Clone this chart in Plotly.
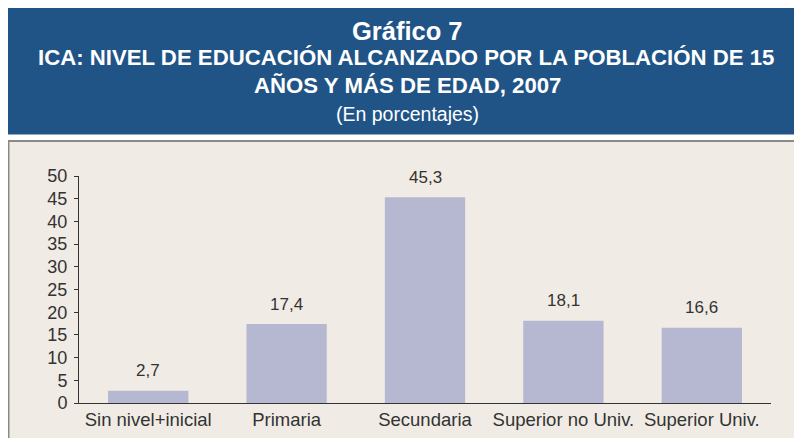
import plotly.graph_objects as go

categories = ["Sin nivel+inicial", "Primaria", "Secundaria", "Superior no Univ.", "Superior Univ."]
values = [2.7, 17.4, 45.3, 18.1, 16.6]
value_labels = ["2,7", "17,4", "45,3", "18,1", "16,6"]
y_ticks = [0, 5, 10, 15, 20, 25, 30, 35, 40, 45, 50]

W, H = 802, 438
OFF = 8  # page offset of the figure (default body margin)
L, R, T, B = 71, 39, 168, 43
pw, ph = W - L - R, H - T - B


def px(x):
    """page x -> paper x"""
    return (x - OFF - L) / pw


def py(y):
    """page y -> paper y"""
    return (H - B - (y - OFF)) / ph


FONT = "Liberation Sans, Arial, sans-serif"

fig = go.Figure()
fig.add_trace(go.Bar(
    x=categories, y=values,
    marker=dict(color="#B6B7D0", line=dict(width=0)),
    hoverinfo="skip",
))

annotations = []
for c, v, t in zip(categories, values, value_labels):
    annotations.append(dict(x=c, y=v, text=t, showarrow=False, yshift=20,
                            yanchor="middle", font=dict(size=17, color="#333333", family=FONT)))

annotations += [
    dict(xref="paper", yref="paper", x=px(407), y=py(31), text="<b>Gráfico 7</b>", showarrow=False,
         font=dict(size=25.5, color="white", family=FONT), yanchor="middle"),
    dict(xref="paper", yref="paper", x=px(406), y=py(58), text="<b>ICA: NIVEL DE EDUCACIÓN ALCANZADO POR LA POBLACIÓN DE 15</b>",
         showarrow=False, font=dict(size=22.2, color="white", family=FONT), yanchor="middle"),
    dict(xref="paper", yref="paper", x=px(407), y=py(85), text="<b>AÑOS Y MÁS DE EDAD, 2007</b>",
         showarrow=False, font=dict(size=22.2, color="white", family=FONT), yanchor="middle"),
    dict(xref="paper", yref="paper", x=px(407), y=py(114), text="(En porcentajes)",
         showarrow=False, font=dict(size=19.5, color="white", family=FONT), yanchor="middle"),
]

shapes = [
    dict(type="rect", xref="paper", yref="paper", x0=px(8), x1=px(815), y0=py(8), y1=py(134.5),
         fillcolor="#215486", line=dict(width=0), layer="below"),
    dict(type="rect", xref="paper", yref="paper", x0=px(8.5), x1=px(815), y0=py(141), y1=py(460),
         fillcolor="#F0ECE5", line=dict(width=2, color="#8A8A8A"), layer="below"),
]

fig.update_layout(
    width=W, height=H,
    margin=dict(l=L, r=R, t=T, b=B, pad=0),
    paper_bgcolor="white", plot_bgcolor="rgba(0,0,0,0)",
    showlegend=False,
    bargap=0.42,
    font=dict(family=FONT, color="#333333"),
    annotations=annotations,
    shapes=shapes,
    xaxis=dict(showgrid=False, showline=True, linecolor="#333333", linewidth=1,
               ticks="", tickfont=dict(size=18.5, color="#333333"), zeroline=False,
               fixedrange=True),
    yaxis=dict(range=[0, 50], tickvals=y_ticks, showgrid=False, showline=True,
               linecolor="#333333", linewidth=1, ticks="outside", ticklen=4,
               tickcolor="#333333", tickfont=dict(size=18, color="#333333"),
               zeroline=False, ticklabelstandoff=3, fixedrange=True),
)

fig.write_html("out.html", config={"displayModeBar": False})
